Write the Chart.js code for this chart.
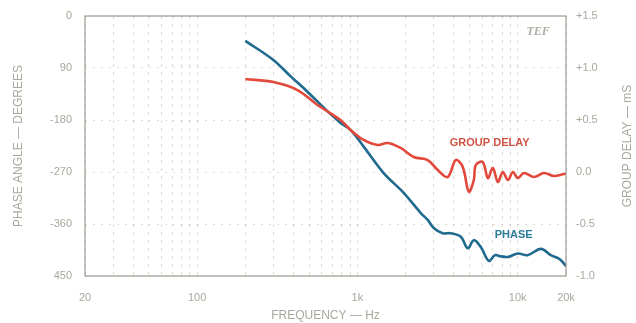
<!DOCTYPE html>
<html>
<head>
<meta charset="utf-8">
<script src="https://cdn.jsdelivr.net/npm/chart.js@4/dist/chart.umd.min.js"></script>
<style>
  html, body { margin: 0; padding: 0; background: #fff; }
  #wrap { width: 636px; height: 323px; }
</style>
</head>
<body>
<div id="wrap"><canvas id="chart" width="636" height="323"></canvas></div>
<script>
// Frequency axis ticks (Hz)
const freqTicks = [20, 100, 1000, 10000, 20000];
const freqTickLabels = ["20", "100", "1k", "10k", "20k"];

// Phase angle axis ticks (as printed)
const phaseTicks = [0, -90, -180, -270, -360, -450];
const phaseTickLabels = ["0", "90", "-180", "-270", "-360", "450"];

// Group delay axis ticks
const delayTicks = [1.5, 1.0, 0.5, 0.0, -0.5, -1.0];
const delayTickLabels = ["+1.5", "+1.0", "+0.5", "0.0", "-0.5", "-1.0"];

// Phase curve
const phaseFreq = [200, 299, 382, 488, 640, 785, 906, 1100, 1458, 1944, 2483, 2746, 2992, 3400, 3820, 4414, 4881, 5322, 5886, 6604, 7200, 7853, 8700, 10024, 11500, 13960, 16100, 17825, 18800, 20000];
const phaseDeg = [-43, -76, -104, -131, -163, -185, -197, -227, -272, -306, -341, -353, -367, -376, -376, -382, -402, -388, -400, -424, -414, -416, -417, -411, -414, -403, -414, -419, -424, -433];

// Group delay curve
const delayFreq = [200, 299, 423, 564, 785, 906, 1093, 1337, 1544, 1861, 2244, 2746, 3170, 3660, 4107, 4541, 4952, 5322, 5476, 6054, 6511, 6997, 7516, 8075, 8678, 9331, 10024, 10930, 12619, 14576, 16827, 19432, 20000];
const delayMs = [0.894, 0.865, 0.788, 0.644, 0.5, 0.404, 0.308, 0.26, 0.279, 0.231, 0.144, 0.115, 0.019, -0.048, 0.115, 0.048, -0.19, -0.077, 0.067, 0.096, -0.058, 0.038, -0.096, 0.0, -0.077, 0.0, -0.058, -0.01, -0.048, -0.01, -0.038, -0.019, -0.019];

// minor gridline positions for the log axis
const gridFreqs = [];
[10, 100, 1000, 10000].forEach((d) => {
  for (let m = 1; m <= 9; m++) {
    const f = d * m;
    if (f >= 20 && f <= 20000) gridFreqs.push(f);
  }
});

const textColor = "#aaa79d";
const gridColor = "rgba(175,170,145,0.4)";
const font = { family: "'Liberation Sans', 'DejaVu Sans', sans-serif", size: 11 };

// Frame, right-hand title and curve captions
const extras = {
  id: "extras",
  afterDatasetsDraw(chart) {
    const { ctx, chartArea: a, scales } = chart;
    ctx.save();
    ctx.strokeStyle = "#9c9a90";
    ctx.lineWidth = 1.2;
    ctx.strokeRect(a.left, a.top, a.right - a.left, a.bottom - a.top);

    ctx.textAlign = "center";
    ctx.textBaseline = "middle";

    // right axis title reads bottom to top, like the left one
    ctx.save();
    ctx.translate(chart.width - 8, (a.top + a.bottom) / 2);
    ctx.rotate(-Math.PI / 2);
    ctx.fillStyle = textColor;
    ctx.font = "12px 'Liberation Sans', 'DejaVu Sans', sans-serif";
    ctx.fillText("GROUP DELAY — mS", 0, 0);
    ctx.restore();

    ctx.font = "bold 11px 'Liberation Sans', 'DejaVu Sans', sans-serif";
    ctx.fillStyle = "#cf5445";
    ctx.fillText("GROUP DELAY", scales.x.getPixelForValue(6680), scales.yd.getPixelForValue(0.279));
    ctx.fillStyle = "#2c7c9c";
    ctx.fillText("PHASE", scales.x.getPixelForValue(9440), scales.y.getPixelForValue(-379));
    ctx.fillStyle = "#b0ada4";
    ctx.font = "italic bold 12px 'Liberation Serif', serif";
    ctx.fillText("TEF", scales.x.getPixelForValue(13400), scales.y.getPixelForValue(-28));
    ctx.restore();
  },
};

// keep the vertical axes from pushing the plot area down
const fixVertical = (w) => (s) => {
  s.width = w;
  s.paddingTop = 6;
  s.paddingBottom = 6;
};

new Chart(document.getElementById("chart"), {
  type: "line",
  data: {
    datasets: [
      {
        label: "Group delay",
        data: delayFreq.map((f, i) => ({ x: f, y: delayMs[i] })),
        yAxisID: "yd",
        borderColor: "#e2483c",
        borderWidth: 2.6,
        pointRadius: 0,
        tension: 0.35,
      },
      {
        label: "Phase",
        data: phaseFreq.map((f, i) => ({ x: f, y: phaseDeg[i] })),
        yAxisID: "y",
        borderColor: "#1f6a8e",
        borderWidth: 2.6,
        pointRadius: 0,
        tension: 0.35,
      },
    ],
  },
  options: {
    responsive: false,
    animation: false,
    layout: { padding: { top: 16, left: 0, right: 0, bottom: 0 } },
    plugins: { legend: { display: false }, tooltip: { enabled: false } },
    scales: {
      x: {
        type: "logarithmic",
        min: 20,
        max: 20000,
        afterBuildTicks: (s) => { s.ticks = gridFreqs.map((v) => ({ value: v })); },
        afterFit: (s) => { s.height = 47; s.paddingLeft = 0; s.paddingRight = 0; },
        ticks: {
          color: textColor,
          font: font,
          padding: 15,
          maxRotation: 0,
          autoSkip: false,
          callback: (v) => {
            const i = freqTicks.indexOf(v);
            return i >= 0 ? freqTickLabels[i] : "";
          },
        },
        grid: { color: gridColor, drawTicks: false, lineWidth: 1 },
        border: { display: false, dash: [3, 5] },
        title: { display: true, text: "FREQUENCY — Hz", color: textColor, font: { ...font, size: 12 }, padding: { top: 2, bottom: 0 } },
      },
      y: {
        position: "left",
        min: -450,
        max: 0,
        afterBuildTicks: (s) => { s.ticks = phaseTicks.map((v) => ({ value: v })); },
        afterFit: fixVertical(85),
        ticks: {
          color: textColor,
          font: font,
          padding: 13,
          callback: (v) => phaseTickLabels[phaseTicks.indexOf(v)],
        },
        grid: { color: gridColor, drawTicks: false },
        border: { display: false, dash: [2, 6] },
        title: { display: true, text: "PHASE ANGLE — DEGREES", color: textColor, font: { ...font, size: 12 }, padding: { top: 11, bottom: 0 } },
      },
      yd: {
        position: "right",
        min: -1.0,
        max: 1.5,
        afterBuildTicks: (s) => { s.ticks = delayTicks.map((v) => ({ value: v })); },
        afterFit: fixVertical(70),
        ticks: {
          color: textColor,
          font: font,
          padding: 10,
          callback: (v) => delayTickLabels[delayTicks.indexOf(v)],
        },
        grid: { display: false, drawTicks: false },
        border: { display: false },
        title: { display: false },
      },
    },
  },
  plugins: [extras],
});
</script>
</body>
</html>
